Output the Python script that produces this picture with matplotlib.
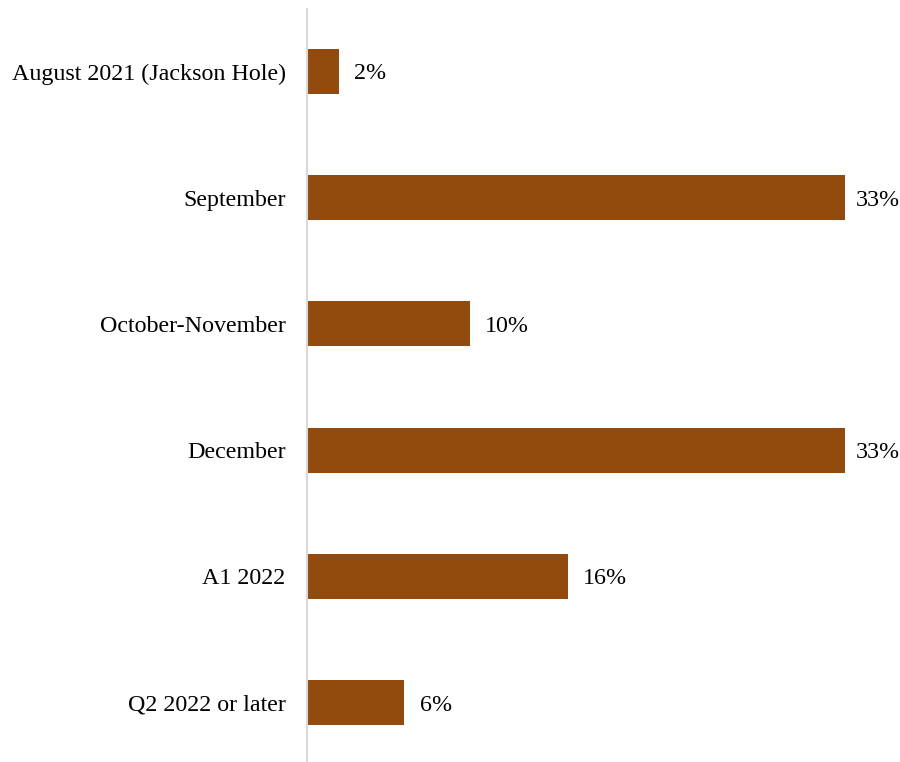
import matplotlib
matplotlib.use("Agg")
import matplotlib.pyplot as plt

categories = [
    "August 2021 (Jackson Hole)",
    "September",
    "October-November",
    "December",
    "A1 2022",
    "Q2 2022 or later",
]
shares = [2, 33, 10, 33, 16, 6]

bar_color = "#934A0E"
plt.rcParams["font.family"] = ["Liberation Serif", "DejaVu Serif"]

fig = plt.figure(figsize=(9, 7.62), dpi=100)
ax = fig.add_axes([306.5 / 900, 0, 1 - 306.5 / 900, 753 / 762])

pos = list(range(len(categories)))
ax.barh(pos, shares, height=0.357, color=bar_color, zorder=2)

ax.set_ylim(len(categories) - 1 + 0.47, -0.495)
ax.set_xlim(0, 36.37)

ax.set_yticks(pos)
ax.set_yticklabels(categories, fontsize=17.3, color="black", va="center_baseline")
ax.tick_params(axis="y", length=0, pad=15)
ax.set_xticks([])

for s in ["top", "right", "bottom"]:
    ax.spines[s].set_visible(False)
ax.spines["left"].set_color("#D9D9D9")
ax.spines["left"].set_linewidth(1.5)

top = max(shares)
for p, v in zip(pos, shares):
    off = 7.5 if v == top else 11
    ax.annotate(f"{v}%", xy=(v, p), xytext=(off, 0), textcoords="offset points",
                va="center_baseline", ha="left", fontsize=17.3, color="black")

fig.savefig("out.png", dpi=100)
